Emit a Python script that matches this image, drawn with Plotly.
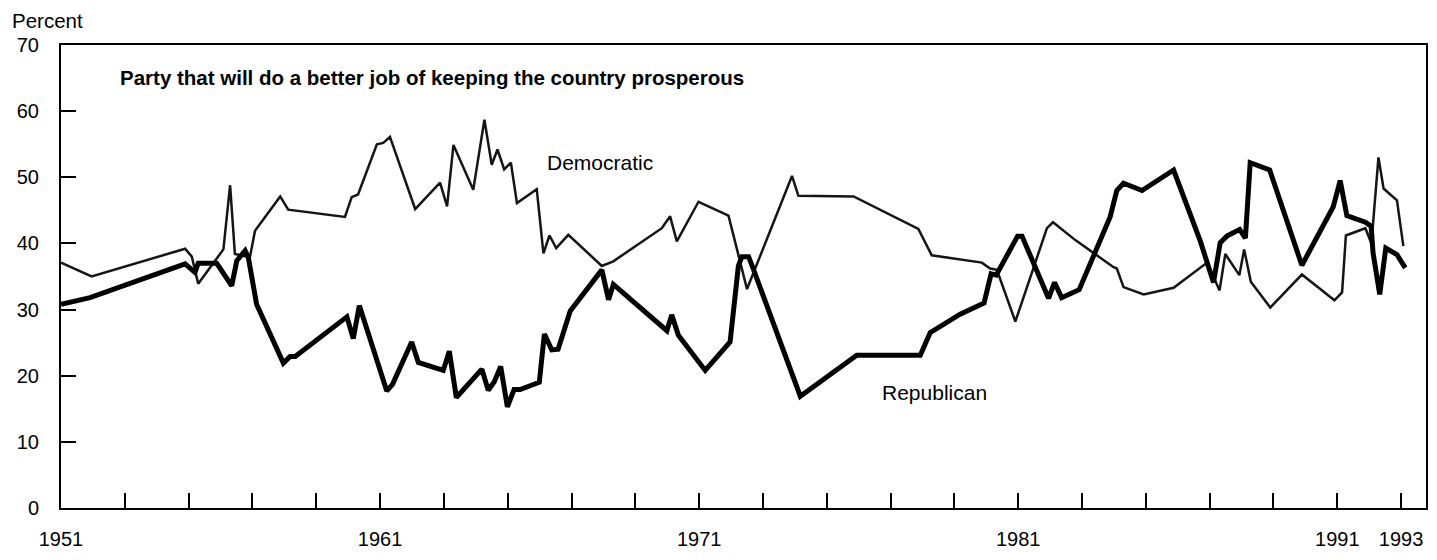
import plotly.graph_objects as go

# ---- data ----
dem_year = [1951.00, 1951.96, 1954.89, 1955.10, 1955.30, 1956.09, 1956.30, 1956.45, 1956.92,
            1957.08, 1957.87, 1958.12, 1959.90, 1960.11, 1960.31, 1960.90, 1961.10, 1961.31,
            1962.10, 1962.88, 1963.10, 1963.30, 1963.92, 1964.27, 1964.50, 1964.68, 1964.89,
            1965.10, 1965.29, 1965.91, 1966.12, 1966.31, 1966.52, 1966.90, 1967.95, 1968.31,
            1969.83, 1970.09, 1970.30, 1970.98, 1971.92, 1972.50, 1973.91, 1974.11, 1975.84,
            1977.87, 1978.29, 1979.18, 1979.86, 1980.12, 1980.33, 1980.91, 1981.90, 1982.09,
            1982.79, 1983.99, 1984.09, 1984.30, 1984.93, 1985.87, 1986.92, 1987.31, 1987.49,
            1987.93, 1988.08, 1988.29, 1988.90, 1989.89, 1990.91, 1991.15, 1991.27, 1991.88,
            1992.07, 1992.29, 1992.45, 1992.87, 1993.07]
dem_pct = [37.1, 35.0, 39.2, 38.0, 33.9, 39.1, 48.8, 38.4, 37.9,
           41.9, 47.1, 45.1, 44.0, 47.0, 47.4, 55.0, 55.2, 56.1,
           45.2, 49.2, 45.6, 54.9, 48.1, 58.7, 51.9, 54.2, 51.2,
           52.2, 46.1, 48.2, 38.5, 41.2, 39.3, 41.3, 36.6, 37.3,
           42.3, 44.1, 40.3, 46.3, 44.2, 33.1, 50.2, 47.2, 47.1,
           42.2, 38.2, 37.6, 37.1, 36.2, 36.0, 28.2, 42.3, 43.2,
           40.5, 36.4, 36.2, 33.4, 32.3, 33.3, 37.1, 32.9, 38.4,
           35.2, 39.1, 34.2, 30.3, 35.3, 31.4, 32.6, 41.2, 42.3,
           40.0, 53.0, 48.3, 46.5, 39.6]

rep_year = [1951.00, 1951.91, 1954.89, 1955.20, 1955.30, 1955.88, 1956.35, 1956.51, 1956.77,
            1956.87, 1957.13, 1957.97, 1958.18, 1958.34, 1959.96, 1960.16, 1960.35, 1961.21,
            1961.39, 1961.99, 1962.20, 1962.98, 1963.17, 1963.39, 1964.19, 1964.39, 1964.58,
            1964.78, 1964.99, 1965.20, 1965.39, 1965.99, 1966.15, 1966.38, 1966.58, 1966.96,
            1967.95, 1968.16, 1968.31, 1969.99, 1970.14, 1970.35, 1971.19, 1971.97, 1972.23,
            1972.34, 1972.55, 1972.70, 1974.17, 1975.94, 1977.93, 1978.08, 1978.24, 1979.18,
            1979.93, 1980.15, 1980.31, 1980.98, 1981.12, 1981.95, 1982.14, 1982.36, 1982.91,
            1983.88, 1984.09, 1984.30, 1984.88, 1985.87, 1986.71, 1987.12, 1987.33, 1987.54,
            1987.94, 1988.12, 1988.27, 1988.88, 1989.89, 1990.87, 1991.09, 1991.30, 1991.88,
            1992.06, 1992.12, 1992.33, 1992.52, 1992.87, 1993.13]
rep_pct = [30.8, 31.8, 36.9, 35.6, 37.0, 37.0, 33.6, 37.4, 38.9,
           37.9, 30.8, 21.9, 22.9, 22.9, 28.9, 25.6, 30.6, 17.7,
           18.7, 25.1, 22.0, 20.8, 23.7, 16.7, 21.0, 17.8, 19.1,
           21.4, 15.3, 17.9, 17.9, 19.0, 26.3, 23.9, 24.0, 29.8,
           36.0, 31.5, 33.8, 26.8, 29.2, 26.1, 20.8, 25.1, 36.6,
           38.0, 38.0, 36.1, 16.9, 23.1, 23.1, 24.8, 26.5, 29.3,
           31.0, 35.4, 35.2, 41.1, 41.1, 31.7, 34.1, 31.8, 33.0,
           44.0, 48.0, 49.1, 48.0, 51.1, 40.3, 34.1, 40.1, 41.1,
           42.1, 40.8, 52.2, 51.1, 36.7, 45.5, 49.5, 44.2, 43.2,
           42.6, 38.6, 32.3, 39.3, 38.3, 36.3]

tick_years = list(range(1951, 1994, 2))
labeled_years = [1951, 1961, 1971, 1981, 1991, 1993]
y_ticks = list(range(0, 71, 10))

title_text = "Party that will do a better job of keeping the country prosperous"
FONT = "Liberation Sans, Arial, Helvetica, sans-serif"

fig = go.Figure()
fig.add_trace(go.Scatter(x=dem_year, y=dem_pct, mode="lines", name="Democratic",
                         line=dict(color="#151515", width=2.5)))
fig.add_trace(go.Scatter(x=rep_year, y=rep_pct, mode="lines", name="Republican",
                         line=dict(color="black", width=5)))

# page body has an 8px margin, so the figure is sized to fit inside the window
fig.update_layout(
    width=1421, height=544,
    margin=dict(l=53, r=3, t=37, b=44),
    paper_bgcolor="white", plot_bgcolor="white",
    showlegend=False,
    font=dict(family=FONT, size=20, color="black"),
)
fig.update_xaxes(
    range=[1951, 1993.78], automargin=False,
    tickmode="array", tickvals=tick_years,
    ticktext=[str(y) if y in labeled_years else "" for y in tick_years],
    ticks="inside", ticklen=15, tickwidth=1.5, tickcolor="black",
    showline=True, linecolor="black", linewidth=2, mirror=True,
    showgrid=False, zeroline=False, ticklabelstandoff=12,
    tickfont=dict(size=20),
)
fig.update_yaxes(
    range=[0, 70], automargin=False,
    tickmode="array", tickvals=y_ticks,
    ticks="inside", ticklen=15, tickwidth=1.5, tickcolor="black",
    showline=True, linecolor="black", linewidth=2, mirror=True,
    showgrid=False, zeroline=False, ticklabelstandoff=16,
    tickfont=dict(size=20),
)

fig.add_annotation(text="Percent", xref="paper", yref="paper", x=-0.0374, y=1.052,
                   xanchor="left", yanchor="middle", showarrow=False,
                   font=dict(size=20.5))
fig.add_annotation(text="<b>" + title_text + "</b>", xref="paper", yref="paper",
                   x=0.0418, y=0.929, xanchor="left", yanchor="middle",
                   showarrow=False, font=dict(size=20.5))
fig.add_annotation(text="Democratic", x=1967.9, y=52.3, xanchor="center", yanchor="middle",
                   showarrow=False, font=dict(size=21))
fig.add_annotation(text="Republican", x=1978.37, y=17.5, xanchor="center", yanchor="middle",
                   showarrow=False, font=dict(size=21))

fig.write_html("out.html")
